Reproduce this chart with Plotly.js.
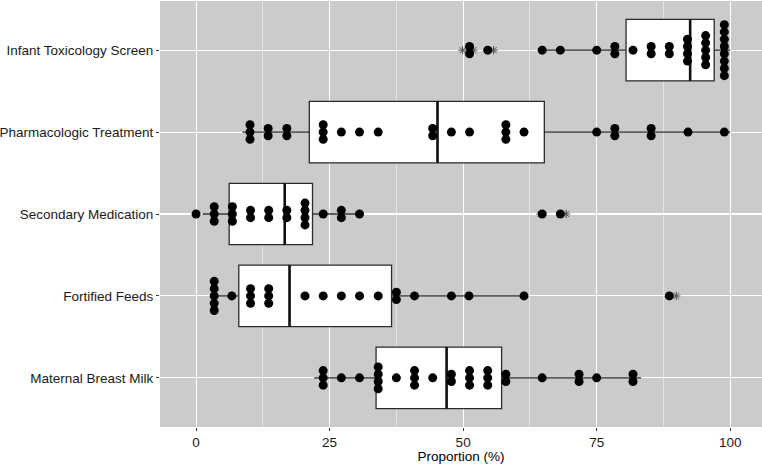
<!DOCTYPE html>
<html>
<head>
<meta charset="utf-8">
<script src="https://cdn.plot.ly/plotly-3.0.1.min.js"></script>
<style>html,body{margin:0;padding:0;background:#fff}#chart{width:762px;height:464px}</style>
</head>
<body>
<div id="chart"></div>
<script>
// Categories, bottom to top
const categories = ["Maternal Breast Milk", "Fortified Feeds", "Secondary Medication", "Pharmacologic Treatment", "Infant Toxicology Screen"];

// Box statistics per category (same order)
const q1Values     = [33.7,  8.0,  6.2, 21.2, 80.5];
const medianValues = [46.9, 17.5, 16.6, 45.2, 92.5];
const q3Values     = [57.2, 36.6, 21.8, 65.2, 97.0];
const lowerWhisker = [22.1,  3.0,  1.2,  8.7, 64.0];
const upperWhisker = [83.3, 61.0, 30.6, 100.0, 100.0];

// Outlier values (asterisks)
const outlierCat = [1, 2, 2, 4, 4, 4];
const outlierVal = [89.9, 64.5, 69.3, 49.9, 51.9, 55.7];

// Dot-plot bins: bin centre value and number of stacked dots
const maternalBins = [23.8, 27.2, 30.6, 34.1, 37.5, 40.9, 44.3, 47.8, 51.2, 54.6, 58.0, 64.8, 71.7, 75.0, 81.8];
const maternalCounts = [3, 1, 1, 4, 1, 3, 1, 2, 3, 3, 2, 1, 2, 1, 2];

const fortifiedBins = [3.4, 6.7, 10.2, 13.6, 20.4, 23.8, 27.2, 30.6, 34.1, 37.5, 40.9, 47.8, 51.1, 61.4, 88.6];
const fortifiedCounts = [5, 1, 3, 3, 1, 1, 1, 1, 1, 2, 1, 1, 1, 1, 1];

const secondaryBins = [0.0, 3.4, 6.8, 10.2, 13.6, 17.0, 20.4, 23.8, 27.2, 30.6, 64.8, 68.2];
const secondaryCounts = [1, 3, 3, 2, 2, 2, 4, 1, 2, 1, 1, 1];

const pharmaBins = [10.1, 13.5, 17.0, 23.8, 27.2, 30.6, 34.1, 44.3, 47.8, 51.2, 58.0, 61.4, 75.0, 78.4, 85.2, 92.1, 98.9];
const pharmaCounts = [3, 2, 2, 3, 1, 1, 1, 2, 1, 1, 3, 1, 1, 2, 2, 1, 1];

const infantBins = [51.2, 54.6, 64.8, 68.2, 75.0, 78.4, 81.8, 85.2, 88.6, 92.0, 95.4, 98.9];
const infantCounts = [2, 1, 1, 1, 1, 2, 1, 2, 2, 4, 5, 8];

const xTickVals = [0, 25, 50, 75, 100];
const xTickText = ["0", "25", "50", "75", "100"];

const allBins = [maternalBins, fortifiedBins, secondaryBins, pharmaBins, infantBins];
const allCounts = [maternalCounts, fortifiedCounts, secondaryCounts, pharmaCounts, infantCounts];

const positions = categories.map((c, i) => i + 1);
const BOX_W = 0.75;
const STACK = 0.089;

// dots
const dotX = [], dotY = [];
allBins.forEach((bins, ci) => {
  bins.forEach((v, bi) => {
    const n = allCounts[ci][bi];
    for (let k = 0; k < n; k++) {
      dotX.push(v);
      dotY.push(positions[ci] + (k - (n - 1) / 2) * STACK);
    }
  });
});

// thick median segments
const medX = [], medY = [];
positions.forEach((p, i) => {
  medX.push(medianValues[i], medianValues[i], null);
  medY.push(p - BOX_W / 2, p + BOX_W / 2, null);
});

const lineCol = "#2b2b2b";
const font = "Liberation Sans, Arial, sans-serif";
const FS = 13.5;

const traces = [
  {
    type: "box", orientation: "h",
    y: positions,
    q1: q1Values, median: medianValues, q3: q3Values,
    lowerfence: lowerWhisker, upperfence: upperWhisker,
    width: BOX_W, whiskerwidth: 0,
    boxpoints: false,
    fillcolor: "white",
    line: { color: lineCol, width: 1.3 },
    hoverinfo: "skip", showlegend: false
  },
  {
    type: "scatter", mode: "lines",
    x: medX, y: medY,
    line: { color: "#111", width: 2.6 },
    hoverinfo: "skip", showlegend: false
  },
  {
    type: "scatter", mode: "markers",
    x: outlierVal, y: outlierCat.map(c => positions[c]),
    marker: { symbol: "asterisk-open", size: 7, color: "#4a4a4a", line: { color: "#4a4a4a", width: 1 } },
    hoverinfo: "skip", showlegend: false
  },
  {
    type: "scatter", mode: "markers",
    x: dotX, y: dotY,
    marker: { color: "black", size: 9, line: { width: 0 } },
    hoverinfo: "skip", showlegend: false
  }
];

const layout = {
  width: 762, height: 464,
  margin: { l: 160, r: 0, t: 1, b: 37 },
  paper_bgcolor: "white",
  plot_bgcolor: "#cbcbcb",
  showlegend: false,
  font: { family: font, size: FS, color: "#1a1a1a" },
  xaxis: {
    range: [-6.75, 105.95],
    tickvals: xTickVals, ticktext: xTickText,
    showgrid: true, gridcolor: "white", gridwidth: 1.1,
    minor: { dtick: 12.5, tick0: 0, showgrid: true, gridcolor: "white", gridwidth: 0.5 },
    zeroline: false, showline: false,
    ticks: "outside", ticklen: 3, tickcolor: "#333", tickwidth: 1,
    tickfont: { family: font, size: FS, color: "#1a1a1a" },
    title: { text: "Proportion (%)", font: { family: font, size: FS, color: "black" }, standoff: 2 }
  },
  yaxis: {
    range: [0.4, 5.6],
    tickvals: positions, ticktext: categories,
    showgrid: true, gridcolor: "white", gridwidth: 1.1,
    zeroline: false, showline: false,
    ticks: "outside", ticklen: 3, tickcolor: "#333", tickwidth: 1,
    tickfont: { family: font, size: FS, color: "#1a1a1a" }
  }
};

Plotly.newPlot("chart", traces, layout, { staticPlot: true, displayModeBar: false });
</script>
</body>
</html>
